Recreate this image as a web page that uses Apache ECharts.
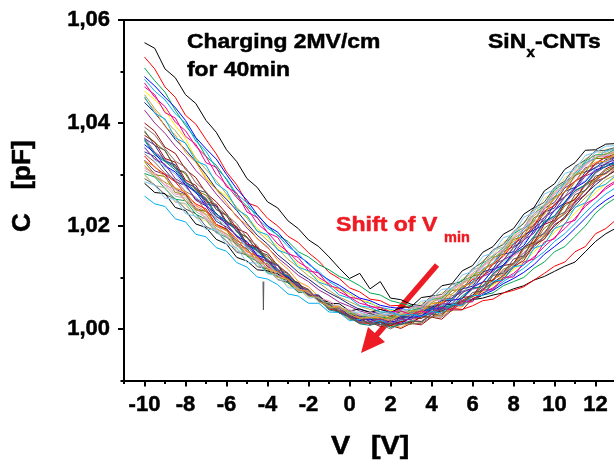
<!DOCTYPE html>
<html><head><meta charset="utf-8">
<script src="https://cdn.jsdelivr.net/npm/echarts@6/dist/echarts.min.js"></script>
<style>html,body{margin:0;padding:0;background:#fff;}#chart{width:614px;height:467px;}</style>
</head><body><div id="chart"></div>
<script>
// Voltage sweep points [V]
const xs = [-10,-9.5,-9,-8.5,-8,-7.5,-7,-6.5,-6,-5.5,-5,-4.5,-4,-3.5,-3,-2.5,-2,-1.5,-1,-0.5,0,0.5,1,1.5,2,2.5,3,3.5,4,4.5,5,5.5,6,6.5,7,7.5,8,8.5,9,9.5,10,10.5,11,11.5,12,12.5,13];
// Capacitance curves [pF], one per measurement during charging
const c00 = [1.0556,1.0545,1.0505,1.0488,1.0455,1.0438,1.0405,1.0382,1.0348,1.0325,1.0292,1.0275,1.0247,1.0235,1.0210,1.0195,1.0173,1.0160,1.0140,1.0118,1.0098,1.0108,1.0078,1.0092,1.0060,1.0057,1.0048,1.0045,1.0043,1.0047,1.0048,1.0052,1.0057,1.0060,1.0066,1.0070,1.0078,1.0084,1.0095,1.0102,1.0112,1.0122,1.0130,1.0150,1.0170,1.0185,1.0196];
const c01 = [1.0528,1.0505,1.0470,1.0450,1.0415,1.0398,1.0368,1.0340,1.0305,1.0280,1.0245,1.0238,1.0215,1.0200,1.0180,1.0168,1.0148,1.0132,1.0110,1.0098,1.0080,1.0072,1.0058,1.0055,1.0045,1.0046,1.0040,1.0043,1.0038,1.0030,1.0040,1.0038,1.0045,1.0055,1.0058,1.0070,1.0075,1.0082,1.0095,1.0108,1.0122,1.0130,1.0150,1.0160,1.0185,1.0195,1.0212];
const c02 = [1.0507,1.0482,1.0460,1.0425,1.0395,1.0370,1.0335,1.0318,1.0290,1.0258,1.0238,1.0222,1.0200,1.0182,1.0170,1.0150,1.0140,1.0125,1.0115,1.0102,1.0095,1.0084,1.0070,1.0066,1.0055,1.0050,1.0045,1.0038,1.0040,1.0044,1.0045,1.0052,1.0055,1.0066,1.0070,1.0084,1.0092,1.0100,1.0118,1.0130,1.0150,1.0160,1.0180,1.0200,1.0225,1.0242,1.0255];
const c03 = [1.0490,1.0472,1.0450,1.0430,1.0405,1.0372,1.0350,1.0330,1.0300,1.0272,1.0250,1.0222,1.0200,1.0188,1.0165,1.0142,1.0128,1.0108,1.0095,1.0085,1.0072,1.0060,1.0055,1.0046,1.0042,1.0040,1.0035,1.0038,1.0038,1.0040,1.0045,1.0052,1.0058,1.0066,1.0075,1.0088,1.0098,1.0110,1.0125,1.0145,1.0160,1.0176,1.0195,1.0215,1.0235,1.0250,1.0262];
const c04 = [1.0485,1.0462,1.0445,1.0418,1.0400,1.0365,1.0345,1.0312,1.0292,1.0262,1.0245,1.0215,1.0196,1.0182,1.0160,1.0146,1.0125,1.0112,1.0092,1.0080,1.0068,1.0056,1.0050,1.0042,1.0038,1.0033,1.0032,1.0030,1.0035,1.0040,1.0043,1.0052,1.0058,1.0070,1.0078,1.0092,1.0105,1.0118,1.0135,1.0150,1.0170,1.0185,1.0205,1.0226,1.0245,1.0262,1.0275];
const c05 = [1.0478,1.0450,1.0432,1.0402,1.0385,1.0355,1.0335,1.0300,1.0280,1.0255,1.0235,1.0205,1.0188,1.0165,1.0150,1.0130,1.0118,1.0100,1.0088,1.0072,1.0062,1.0050,1.0045,1.0038,1.0034,1.0028,1.0030,1.0029,1.0033,1.0036,1.0042,1.0050,1.0058,1.0070,1.0080,1.0096,1.0108,1.0125,1.0140,1.0160,1.0178,1.0195,1.0215,1.0238,1.0255,1.0272,1.0285];
const c06 = [1.0462,1.0445,1.0425,1.0395,1.0370,1.0330,1.0295,1.0272,1.0258,1.0235,1.0218,1.0195,1.0178,1.0160,1.0145,1.0125,1.0110,1.0096,1.0085,1.0076,1.0068,1.0056,1.0052,1.0040,1.0036,1.0034,1.0030,1.0032,1.0035,1.0040,1.0045,1.0055,1.0062,1.0072,1.0085,1.0100,1.0115,1.0130,1.0150,1.0168,1.0188,1.0205,1.0225,1.0245,1.0265,1.0282,1.0295];
const c07 = [1.0455,1.0428,1.0405,1.0385,1.0360,1.0332,1.0310,1.0288,1.0262,1.0236,1.0215,1.0190,1.0172,1.0156,1.0135,1.0120,1.0103,1.0090,1.0075,1.0062,1.0053,1.0044,1.0038,1.0033,1.0030,1.0026,1.0027,1.0030,1.0032,1.0036,1.0043,1.0052,1.0062,1.0076,1.0087,1.0102,1.0118,1.0138,1.0155,1.0176,1.0195,1.0215,1.0235,1.0255,1.0272,1.0290,1.0300];
const c08 = [1.0440,1.0420,1.0395,1.0368,1.0348,1.0325,1.0300,1.0272,1.0252,1.0230,1.0205,1.0182,1.0165,1.0144,1.0128,1.0110,1.0097,1.0082,1.0070,1.0060,1.0048,1.0038,1.0033,1.0030,1.0025,1.0020,1.0024,1.0026,1.0030,1.0035,1.0043,1.0054,1.0063,1.0078,1.0090,1.0104,1.0122,1.0142,1.0160,1.0180,1.0200,1.0218,1.0240,1.0262,1.0280,1.0296,1.0308];
const c09 = [1.0425,1.0400,1.0380,1.0355,1.0335,1.0308,1.0288,1.0262,1.0240,1.0220,1.0196,1.0176,1.0158,1.0138,1.0122,1.0104,1.0092,1.0076,1.0065,1.0052,1.0044,1.0035,1.0030,1.0024,1.0023,1.0020,1.0022,1.0024,1.0030,1.0038,1.0045,1.0056,1.0066,1.0082,1.0094,1.0112,1.0128,1.0148,1.0166,1.0188,1.0207,1.0226,1.0248,1.0270,1.0288,1.0304,1.0315];
const c10 = [1.0400,1.0384,1.0353,1.0341,1.0310,1.0294,1.0264,1.0247,1.0224,1.0195,1.0186,1.0157,1.0148,1.0123,1.0108,1.0086,1.0077,1.0057,1.0047,1.0031,1.0023,1.0012,1.0013,1.0005,1.0007,1.0001,1.0011,1.0008,1.0023,1.0019,1.0037,1.0037,1.0059,1.0066,1.0090,1.0096,1.0121,1.0133,1.0164,1.0174,1.0203,1.0215,1.0247,1.0260,1.0286,1.0295,1.0310];
const c11 = [1.0382,1.0362,1.0346,1.0314,1.0301,1.0269,1.0260,1.0232,1.0220,1.0190,1.0177,1.0153,1.0140,1.0125,1.0098,1.0090,1.0068,1.0062,1.0042,1.0036,1.0018,1.0021,1.0009,1.0017,1.0004,1.0011,1.0009,1.0024,1.0022,1.0034,1.0035,1.0055,1.0063,1.0085,1.0094,1.0116,1.0125,1.0155,1.0166,1.0196,1.0210,1.0239,1.0252,1.0279,1.0289,1.0308,1.0317];
const c12 = [1.0366,1.0338,1.0325,1.0309,1.0283,1.0264,1.0251,1.0219,1.0208,1.0191,1.0162,1.0152,1.0131,1.0110,1.0104,1.0086,1.0067,1.0060,1.0040,1.0038,1.0028,1.0016,1.0013,1.0016,1.0009,1.0014,1.0022,1.0020,1.0033,1.0041,1.0046,1.0064,1.0080,1.0082,1.0108,1.0124,1.0146,1.0157,1.0180,1.0209,1.0220,1.0247,1.0269,1.0280,1.0305,1.0320,1.0322];
const c13 = [1.0344,1.0335,1.0309,1.0286,1.0279,1.0250,1.0239,1.0209,1.0198,1.0182,1.0158,1.0144,1.0121,1.0113,1.0098,1.0076,1.0074,1.0054,1.0042,1.0041,1.0026,1.0016,1.0020,1.0016,1.0011,1.0022,1.0024,1.0025,1.0042,1.0042,1.0060,1.0073,1.0079,1.0104,1.0116,1.0133,1.0158,1.0172,1.0197,1.0211,1.0242,1.0256,1.0275,1.0300,1.0314,1.0320,1.0334];
const c14 = [1.0448,1.0424,1.0393,1.0377,1.0343,1.0324,1.0291,1.0271,1.0245,1.0217,1.0202,1.0175,1.0160,1.0133,1.0116,1.0092,1.0082,1.0063,1.0051,1.0033,1.0025,1.0014,1.0015,1.0009,1.0010,1.0003,1.0015,1.0013,1.0028,1.0025,1.0043,1.0043,1.0065,1.0076,1.0097,1.0106,1.0129,1.0142,1.0172,1.0182,1.0211,1.0225,1.0255,1.0268,1.0293,1.0301,1.0315];
const c15 = [1.0328,1.0307,1.0300,1.0272,1.0262,1.0234,1.0228,1.0203,1.0194,1.0167,1.0156,1.0131,1.0125,1.0110,1.0089,1.0082,1.0065,1.0062,1.0044,1.0042,1.0024,1.0028,1.0018,1.0023,1.0016,1.0024,1.0025,1.0041,1.0042,1.0058,1.0060,1.0083,1.0091,1.0115,1.0126,1.0150,1.0160,1.0189,1.0201,1.0234,1.0246,1.0274,1.0286,1.0313,1.0319,1.0335,1.0339];
const c16 = [1.0372,1.0344,1.0330,1.0314,1.0287,1.0267,1.0255,1.0223,1.0211,1.0193,1.0164,1.0154,1.0133,1.0112,1.0105,1.0085,1.0067,1.0062,1.0039,1.0037,1.0028,1.0013,1.0012,1.0020,1.0008,1.0012,1.0020,1.0015,1.0030,1.0039,1.0043,1.0059,1.0077,1.0082,1.0105,1.0121,1.0142,1.0155,1.0176,1.0205,1.0216,1.0243,1.0265,1.0277,1.0302,1.0316,1.0320];
const c17 = [1.0308,1.0297,1.0279,1.0258,1.0254,1.0228,1.0217,1.0191,1.0181,1.0166,1.0144,1.0134,1.0111,1.0105,1.0092,1.0074,1.0072,1.0053,1.0044,1.0044,1.0031,1.0022,1.0026,1.0024,1.0019,1.0032,1.0034,1.0039,1.0056,1.0058,1.0076,1.0091,1.0098,1.0124,1.0137,1.0154,1.0181,1.0193,1.0220,1.0236,1.0266,1.0280,1.0298,1.0322,1.0334,1.0335,1.0348];
const c18 = [1.0340,1.0324,1.0302,1.0290,1.0267,1.0256,1.0228,1.0215,1.0195,1.0171,1.0163,1.0137,1.0131,1.0108,1.0098,1.0076,1.0074,1.0055,1.0050,1.0033,1.0030,1.0018,1.0023,1.0014,1.0020,1.0015,1.0029,1.0030,1.0046,1.0047,1.0065,1.0069,1.0091,1.0102,1.0126,1.0134,1.0159,1.0175,1.0204,1.0216,1.0243,1.0257,1.0286,1.0298,1.0320,1.0325,1.0334];
const c19 = [1.0298,1.0279,1.0274,1.0248,1.0241,1.0216,1.0210,1.0188,1.0179,1.0155,1.0144,1.0123,1.0116,1.0104,1.0084,1.0078,1.0063,1.0061,1.0045,1.0044,1.0028,1.0031,1.0023,1.0029,1.0022,1.0032,1.0034,1.0051,1.0053,1.0071,1.0074,1.0098,1.0107,1.0133,1.0143,1.0169,1.0179,1.0208,1.0221,1.0254,1.0266,1.0294,1.0305,1.0331,1.0336,1.0349,1.0351];
const c20 = [1.0354,1.0328,1.0315,1.0301,1.0275,1.0255,1.0244,1.0213,1.0202,1.0183,1.0157,1.0148,1.0127,1.0108,1.0102,1.0083,1.0066,1.0060,1.0040,1.0037,1.0030,1.0016,1.0015,1.0019,1.0011,1.0016,1.0025,1.0022,1.0037,1.0047,1.0051,1.0069,1.0087,1.0090,1.0115,1.0129,1.0153,1.0167,1.0188,1.0217,1.0228,1.0255,1.0277,1.0288,1.0312,1.0326,1.0327];
const c21 = [1.0314,1.0303,1.0284,1.0262,1.0258,1.0232,1.0221,1.0193,1.0184,1.0169,1.0146,1.0136,1.0112,1.0107,1.0093,1.0074,1.0072,1.0054,1.0044,1.0044,1.0030,1.0022,1.0025,1.0022,1.0017,1.0030,1.0033,1.0037,1.0054,1.0056,1.0074,1.0089,1.0095,1.0122,1.0134,1.0150,1.0177,1.0189,1.0216,1.0232,1.0262,1.0276,1.0294,1.0319,1.0331,1.0333,1.0346];
const c22 = [1.0292,1.0280,1.0261,1.0253,1.0233,1.0224,1.0199,1.0189,1.0171,1.0149,1.0144,1.0121,1.0117,1.0096,1.0090,1.0071,1.0071,1.0055,1.0052,1.0037,1.0036,1.0024,1.0031,1.0023,1.0030,1.0027,1.0043,1.0046,1.0064,1.0067,1.0087,1.0093,1.0117,1.0130,1.0154,1.0164,1.0189,1.0205,1.0235,1.0246,1.0275,1.0287,1.0316,1.0328,1.0346,1.0347,1.0353];
const c23 = [1.0283,1.0265,1.0263,1.0236,1.0230,1.0204,1.0197,1.0174,1.0165,1.0139,1.0132,1.0115,1.0113,1.0107,1.0091,1.0082,1.0065,1.0064,1.0050,1.0049,1.0035,1.0039,1.0032,1.0038,1.0032,1.0042,1.0043,1.0061,1.0064,1.0084,1.0088,1.0113,1.0123,1.0149,1.0160,1.0184,1.0195,1.0223,1.0236,1.0268,1.0282,1.0310,1.0323,1.0347,1.0348,1.0359,1.0360];
const c24 = [1.0336,1.0314,1.0300,1.0286,1.0262,1.0243,1.0233,1.0203,1.0194,1.0175,1.0150,1.0142,1.0122,1.0104,1.0099,1.0081,1.0065,1.0059,1.0039,1.0034,1.0025,1.0012,1.0010,1.0014,1.0007,1.0013,1.0022,1.0021,1.0038,1.0051,1.0059,1.0077,1.0096,1.0102,1.0126,1.0141,1.0165,1.0179,1.0199,1.0229,1.0240,1.0267,1.0288,1.0299,1.0322,1.0334,1.0334];
const c25 = [1.0302,1.0295,1.0273,1.0252,1.0249,1.0223,1.0213,1.0187,1.0178,1.0164,1.0141,1.0132,1.0109,1.0103,1.0091,1.0072,1.0071,1.0054,1.0044,1.0044,1.0031,1.0022,1.0027,1.0024,1.0020,1.0034,1.0036,1.0041,1.0058,1.0060,1.0079,1.0095,1.0101,1.0128,1.0141,1.0158,1.0185,1.0197,1.0224,1.0240,1.0270,1.0284,1.0302,1.0326,1.0338,1.0339,1.0350];
const c26 = [1.0358,1.0342,1.0317,1.0305,1.0280,1.0266,1.0239,1.0225,1.0203,1.0180,1.0170,1.0143,1.0136,1.0111,1.0101,1.0080,1.0075,1.0055,1.0049,1.0031,1.0028,1.0016,1.0020,1.0009,1.0016,1.0010,1.0023,1.0024,1.0039,1.0039,1.0056,1.0059,1.0081,1.0091,1.0115,1.0124,1.0148,1.0162,1.0192,1.0203,1.0231,1.0245,1.0274,1.0286,1.0309,1.0315,1.0327];
const c27 = [1.0258,1.0243,1.0238,1.0214,1.0208,1.0184,1.0179,1.0158,1.0151,1.0129,1.0120,1.0101,1.0097,1.0086,1.0068,1.0064,1.0050,1.0050,1.0033,1.0032,1.0016,1.0019,1.0011,1.0017,1.0009,1.0018,1.0019,1.0035,1.0038,1.0056,1.0058,1.0081,1.0091,1.0117,1.0128,1.0154,1.0165,1.0195,1.0210,1.0242,1.0256,1.0284,1.0297,1.0323,1.0331,1.0346,1.0350];
const c28 = [1.0376,1.0363,1.0331,1.0324,1.0289,1.0279,1.0247,1.0242,1.0208,1.0199,1.0165,1.0159,1.0132,1.0125,1.0095,1.0090,1.0066,1.0064,1.0040,1.0037,1.0022,1.0021,1.0009,1.0013,1.0007,1.0015,1.0012,1.0024,1.0023,1.0040,1.0038,1.0061,1.0064,1.0091,1.0095,1.0123,1.0127,1.0159,1.0168,1.0203,1.0211,1.0243,1.0251,1.0282,1.0292,1.0311,1.0320];
const c29 = [1.0325,1.0300,1.0296,1.0265,1.0261,1.0231,1.0229,1.0199,1.0192,1.0161,1.0155,1.0129,1.0127,1.0101,1.0098,1.0076,1.0072,1.0053,1.0050,1.0036,1.0033,1.0022,1.0023,1.0018,1.0024,1.0023,1.0033,1.0034,1.0050,1.0052,1.0075,1.0077,1.0103,1.0107,1.0139,1.0145,1.0174,1.0180,1.0216,1.0224,1.0257,1.0265,1.0299,1.0305,1.0331,1.0331,1.0342];
const c30 = [1.0392,1.0377,1.0350,1.0326,1.0314,1.0284,1.0267,1.0237,1.0222,1.0204,1.0177,1.0162,1.0134,1.0125,1.0106,1.0084,1.0077,1.0056,1.0040,1.0038,1.0021,1.0011,1.0012,1.0009,1.0000,1.0011,1.0010,1.0011,1.0024,1.0023,1.0038,1.0050,1.0053,1.0078,1.0088,1.0104,1.0128,1.0139,1.0165,1.0179,1.0210,1.0223,1.0244,1.0270,1.0287,1.0294,1.0314];
const c31 = [1.0370,1.0357,1.0326,1.0319,1.0285,1.0274,1.0243,1.0239,1.0205,1.0196,1.0162,1.0157,1.0130,1.0123,1.0094,1.0090,1.0067,1.0066,1.0043,1.0041,1.0026,1.0026,1.0015,1.0020,1.0015,1.0024,1.0023,1.0036,1.0037,1.0055,1.0055,1.0078,1.0083,1.0111,1.0117,1.0145,1.0150,1.0183,1.0192,1.0227,1.0235,1.0267,1.0275,1.0305,1.0313,1.0329,1.0334];
const c32 = [1.0301,1.0278,1.0275,1.0246,1.0244,1.0216,1.0215,1.0186,1.0180,1.0151,1.0146,1.0122,1.0120,1.0095,1.0094,1.0073,1.0071,1.0053,1.0051,1.0038,1.0036,1.0026,1.0027,1.0023,1.0029,1.0029,1.0040,1.0042,1.0059,1.0062,1.0086,1.0089,1.0115,1.0121,1.0153,1.0159,1.0190,1.0196,1.0232,1.0240,1.0273,1.0281,1.0314,1.0319,1.0344,1.0343,1.0352];
const c33 = [1.0368,1.0342,1.0327,1.0313,1.0285,1.0267,1.0253,1.0223,1.0210,1.0191,1.0163,1.0154,1.0131,1.0111,1.0103,1.0084,1.0065,1.0059,1.0037,1.0033,1.0023,1.0010,1.0007,1.0013,1.0003,1.0009,1.0016,1.0014,1.0028,1.0039,1.0043,1.0061,1.0078,1.0083,1.0107,1.0122,1.0145,1.0158,1.0179,1.0207,1.0219,1.0245,1.0268,1.0279,1.0304,1.0316,1.0321];
const c34 = [1.0312,1.0301,1.0279,1.0271,1.0248,1.0239,1.0212,1.0202,1.0182,1.0161,1.0153,1.0131,1.0125,1.0104,1.0095,1.0077,1.0075,1.0059,1.0055,1.0041,1.0038,1.0028,1.0033,1.0026,1.0032,1.0028,1.0042,1.0044,1.0061,1.0063,1.0081,1.0086,1.0109,1.0120,1.0144,1.0154,1.0179,1.0195,1.0224,1.0236,1.0264,1.0277,1.0306,1.0316,1.0337,1.0337,1.0347];
const c35 = [1.0352,1.0330,1.0320,1.0292,1.0280,1.0252,1.0242,1.0218,1.0205,1.0179,1.0165,1.0141,1.0131,1.0116,1.0093,1.0085,1.0066,1.0063,1.0043,1.0040,1.0022,1.0024,1.0014,1.0020,1.0010,1.0019,1.0018,1.0033,1.0033,1.0049,1.0049,1.0071,1.0079,1.0102,1.0111,1.0135,1.0144,1.0173,1.0186,1.0217,1.0230,1.0257,1.0271,1.0297,1.0306,1.0322,1.0329];
const c36 = [1.0286,1.0279,1.0254,1.0252,1.0224,1.0219,1.0193,1.0193,1.0164,1.0158,1.0129,1.0128,1.0107,1.0105,1.0080,1.0079,1.0060,1.0062,1.0044,1.0044,1.0032,1.0033,1.0024,1.0030,1.0027,1.0037,1.0038,1.0054,1.0057,1.0077,1.0079,1.0105,1.0112,1.0141,1.0148,1.0177,1.0184,1.0217,1.0227,1.0262,1.0271,1.0302,1.0309,1.0337,1.0343,1.0355,1.0356];
const c37 = [1.0326,1.0316,1.0294,1.0274,1.0266,1.0240,1.0228,1.0202,1.0190,1.0176,1.0151,1.0140,1.0116,1.0111,1.0095,1.0076,1.0073,1.0055,1.0043,1.0044,1.0028,1.0021,1.0023,1.0022,1.0015,1.0028,1.0029,1.0033,1.0049,1.0051,1.0068,1.0083,1.0088,1.0115,1.0127,1.0144,1.0170,1.0182,1.0208,1.0222,1.0254,1.0266,1.0286,1.0310,1.0324,1.0326,1.0341];
const c38 = [1.0385,1.0356,1.0347,1.0312,1.0304,1.0271,1.0265,1.0232,1.0221,1.0188,1.0179,1.0150,1.0144,1.0115,1.0108,1.0082,1.0076,1.0055,1.0048,1.0032,1.0026,1.0014,1.0013,1.0008,1.0011,1.0008,1.0015,1.0014,1.0028,1.0027,1.0047,1.0047,1.0071,1.0074,1.0104,1.0108,1.0136,1.0142,1.0177,1.0185,1.0217,1.0227,1.0261,1.0269,1.0297,1.0302,1.0318];
const c39 = [1.0318,1.0296,1.0285,1.0274,1.0249,1.0234,1.0223,1.0195,1.0185,1.0169,1.0143,1.0138,1.0117,1.0100,1.0096,1.0080,1.0064,1.0061,1.0042,1.0041,1.0034,1.0022,1.0021,1.0028,1.0019,1.0027,1.0036,1.0035,1.0051,1.0063,1.0068,1.0087,1.0106,1.0112,1.0137,1.0152,1.0176,1.0189,1.0211,1.0239,1.0252,1.0277,1.0300,1.0309,1.0332,1.0341,1.0342];
const c40 = [1.0470,1.0455,1.0420,1.0410,1.0374,1.0359,1.0323,1.0314,1.0276,1.0264,1.0227,1.0217,1.0187,1.0178,1.0146,1.0139,1.0113,1.0109,1.0084,1.0079,1.0062,1.0058,1.0043,1.0042,1.0033,1.0035,1.0028,1.0035,1.0030,1.0042,1.0036,1.0054,1.0053,1.0076,1.0076,1.0100,1.0101,1.0130,1.0136,1.0169,1.0175,1.0205,1.0211,1.0243,1.0254,1.0276,1.0288];
const c41 = [1.0451,1.0419,1.0408,1.0371,1.0361,1.0326,1.0318,1.0282,1.0268,1.0232,1.0220,1.0190,1.0183,1.0153,1.0146,1.0120,1.0113,1.0091,1.0084,1.0066,1.0060,1.0045,1.0042,1.0033,1.0033,1.0026,1.0029,1.0024,1.0034,1.0031,1.0048,1.0045,1.0065,1.0065,1.0093,1.0095,1.0121,1.0124,1.0157,1.0164,1.0195,1.0203,1.0236,1.0245,1.0274,1.0281,1.0299];
// glitch in one measurement near -4.2 V
const spikeX = [-4.22, -4.2, -4.18];
const spikeC = [1.0092, 1.0037, 1.0092];

const curves = [c00,c01,c02,c03,c04,c05,c06,c07,c08,c09,c10,c11,c12,c13,c14,c15,c16,c17,c18,c19,c20,c21,c22,c23,c24,c25,c26,c27,c28,c29,c30,c31,c32,c33,c34,c35,c36,c37,c38,c39,c40,c41];
const colors = ['#000000','#ff0000','#00a651','#0000ff','#00aeef','#ec008c','#fff200','#b5a642','#1b1f7a','#92278f','#9e0b0f','#808000','#008080','#2e3192','#f7941d','#662d91','#f06eaa','#b0b0b0','#8c6d62','#e6e07a','#7fc8f0','#f49ac2','#555555','#000000','#ff0000','#00a651','#0000ff','#00aeef',
  '#9e0b0f','#808000','#8c6d62','#2e3192','#b0b0b0','#008080','#f49ac2','#92278f','#7fc8f0','#f7941d','#555555','#b5a642','#ec008c','#00aeef'];

const xMajor = [-10,-8,-6,-4,-2,0,2,4,6,8,10,12];
const xMinor = [-11,-9,-7,-5,-3,-1,1,3,5,7,9,11];
const yMajor = [1.00,1.02,1.04,1.06];
const yMinor = [0.99,1.01,1.03,1.05];
const X_MIN = -11, X_MAX = 12.9, Y_MIN = 0.99, Y_MAX = 1.06;

const FONT = 'Arial, "Liberation Sans", sans-serif';
const chart = echarts.init(document.getElementById('chart'), null, {renderer:'canvas'});

const lineSeries = curves.map((c, i) => ({
  type: 'line', xAxisIndex: 0, yAxisIndex: 0,
  data: xs.map((x, j) => [x, c[j]]),
  showSymbol: false, symbol: 'none', silent: true,
  lineStyle: {width: 1, color: colors[i]}, itemStyle: {color: colors[i]},
  clip: true
}));
lineSeries.push({
  type: 'line', xAxisIndex: 0, yAxisIndex: 0,
  data: spikeX.map((x, j) => [x, spikeC[j]]),
  showSymbol: false, symbol: 'none', silent: true,
  lineStyle: {width: 1, color: '#555555'}
});

const axisBase = {type: 'value', splitLine: {show: false}};
const red = '#ed1c24';
const labelStyle = {color: '#000', fontSize: 22, fontWeight: 'bold', fontFamily: FONT, textBorderColor: '#000', textBorderWidth: 0.5};
const txt = (text, x, y, size, color, extra) => Object.assign({
  type: 'text', x: x, y: y,
  style: {text: text, font: 'bold ' + size + 'px ' + FONT, fill: color, stroke: color, lineWidth: 0.5, textAlign: 'left', textVerticalAlign: 'middle'}
}, extra || {});

const option = {
  animation: false,
  backgroundColor: '#ffffff',
  grid: {left: 124, top: 20, right: 0, height: 360.5, containLabel: false},
  xAxis: [
    Object.assign({}, axisBase, {
      min: X_MIN, max: X_MAX, position: 'bottom',
      axisLine: {show: true, onZero: false, lineStyle: {color: '#000', width: 2}},
      axisTick: {show: true, customValues: xMajor, length: 6, lineStyle: {color: '#000', width: 2}},
      axisLabel: Object.assign({customValues: xMajor, margin: 13}, labelStyle)
    }),
    Object.assign({}, axisBase, {
      min: X_MIN, max: X_MAX, position: 'bottom',
      axisLine: {show: false, onZero: false},
      axisTick: {show: true, customValues: xMinor, length: 3.5, lineStyle: {color: '#000', width: 2}},
      axisLabel: {show: false}
    }),
    Object.assign({}, axisBase, {
      min: X_MIN, max: X_MAX, position: 'top',
      axisLine: {show: true, onZero: false, lineStyle: {color: '#000', width: 2}},
      axisTick: {show: false}, axisLabel: {show: false}
    })
  ],
  yAxis: [
    Object.assign({}, axisBase, {
      min: Y_MIN, max: Y_MAX, interval: 0.01, position: 'left',
      axisLine: {show: true, onZero: false, lineStyle: {color: '#000', width: 2}},
      axisTick: {show: true, customValues: yMajor, length: 6, lineStyle: {color: '#000', width: 2}},
      axisLabel: Object.assign({customValues: yMajor, margin: 14, formatter: v => v.toFixed(2).replace('.', ',')}, labelStyle)
    }),
    Object.assign({}, axisBase, {
      min: Y_MIN, max: Y_MAX, interval: 0.01, position: 'left',
      axisLine: {show: false, onZero: false},
      axisTick: {show: true, customValues: yMinor, length: 3.5, lineStyle: {color: '#000', width: 2}},
      axisLabel: {show: false}
    })
  ],
  series: lineSeries,
  graphic: [
    txt('Charging 2MV/cm', 187, 42.5, 21, '#000', {scaleX: 1.09}),
    txt('for 40min', 187, 70.5, 21, '#000', {scaleX: 1.09}),
    txt('SiN', 488, 42.5, 21, '#000', {scaleX: 1.09}),
    txt('x', 526.5, 53, 15, '#000'),
    txt('-CNTs', 535, 42.5, 21, '#000', {scaleX: 1.09}),
    txt('Shift of V', 336, 225.5, 21, red, {scaleX: 1.1}),
    txt('min', 444, 238, 14.5, red),
    {type: 'line', shape: {x1: 437, y1: 265, x2: 375, y2: 337}, style: {stroke: red, lineWidth: 5.5}},
    {type: 'polygon', shape: {points: [[361, 353], [385, 342], [368, 327]]}, style: {fill: red}},
    txt('V', 331, 447, 25, '#000', {scaleX: 1.15}),
    txt('[V]', 371, 447, 25, '#000', {scaleX: 1.15}),
    {type: 'text', x: 23, y: 222.5, rotation: Math.PI / 2, style: {text: 'C', font: 'bold 26px ' + FONT, fill: '#000', stroke: '#000', lineWidth: 0.5, textAlign: 'center', textVerticalAlign: 'middle'}},
    {type: 'text', x: 23, y: 165, rotation: Math.PI / 2, style: {text: '[pF]', font: 'bold 26px ' + FONT, fill: '#000', stroke: '#000', lineWidth: 0.5, textAlign: 'center', textVerticalAlign: 'middle'}}
  ]
};
chart.setOption(option);
</script>
</body></html>
